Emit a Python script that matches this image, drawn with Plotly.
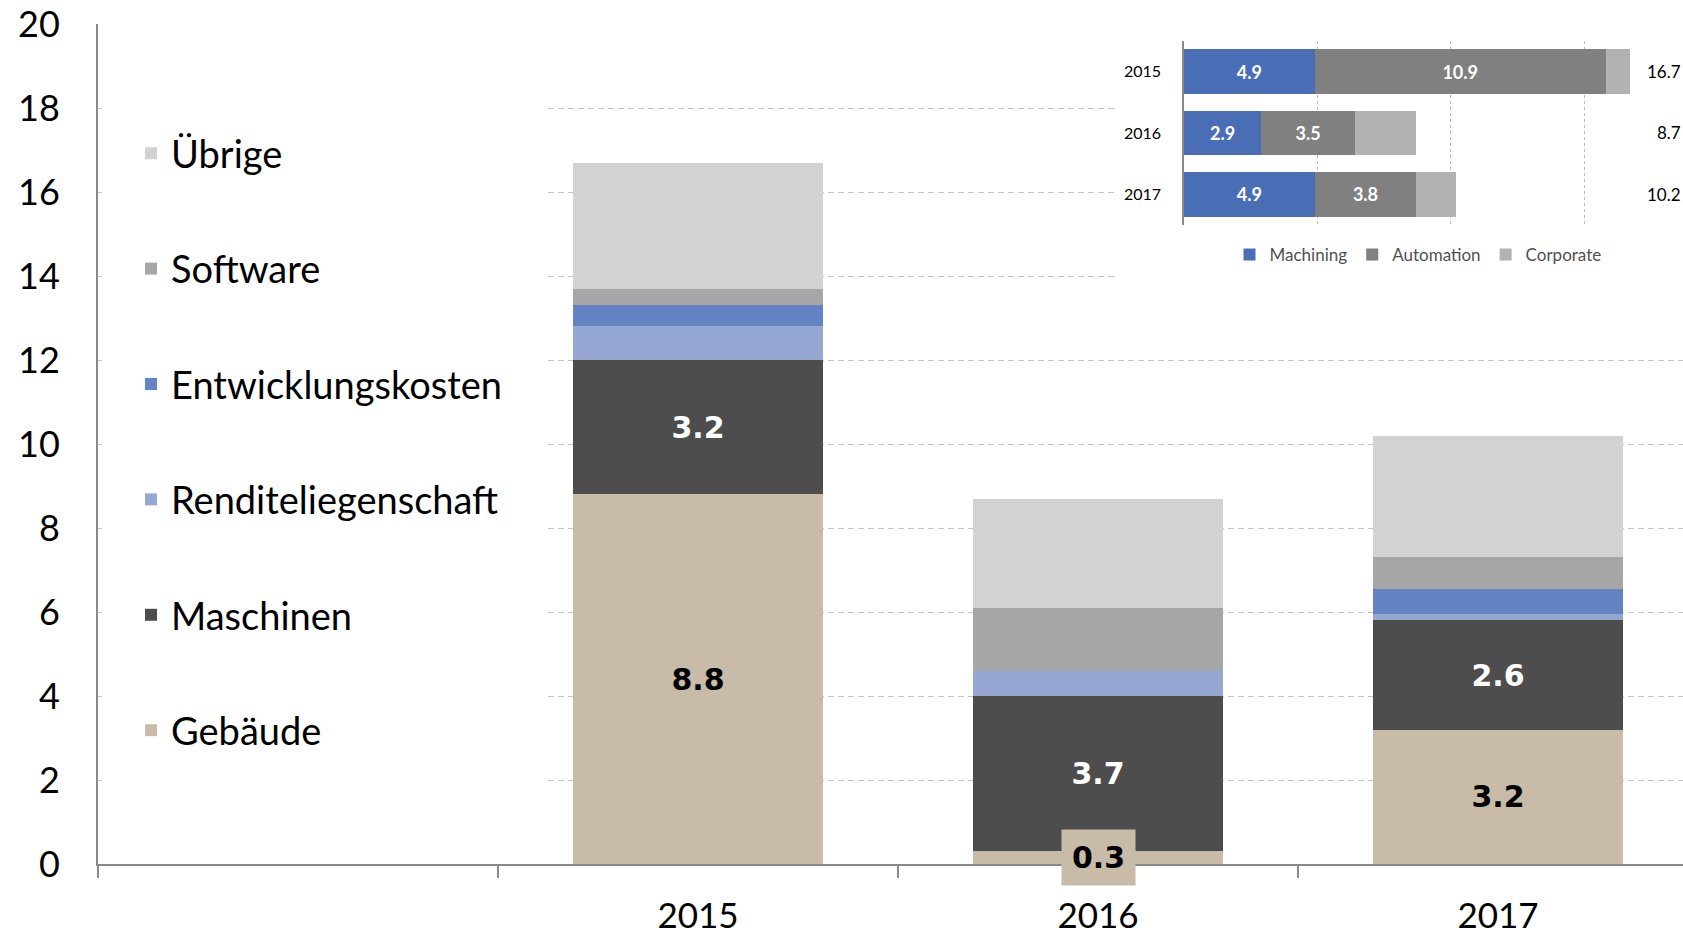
import plotly.graph_objects as go

# ---------------- data: main stacked chart ----------------
years = ["2015", "2016", "2017"]
series_names = ["Gebäude", "Maschinen", "Renditeliegenschaft",
                "Entwicklungskosten", "Software", "Übrige"]
gebaeude = [8.8, 0.3, 3.2]
maschinen = [3.2, 3.7, 2.6]
rendite = [0.8, 0.6, 0.15]
entwicklung = [0.5, 0.0, 0.6]
software = [0.4, 1.5, 0.75]
uebrige = [3.0, 2.6, 2.9]
y_ticks = list(range(0, 21, 2))

# ---------------- data: inset chart ----------------
inset_years = ["2015", "2016", "2017"]
inset_names = ["Machining", "Automation", "Corporate"]
machining = [4.9, 2.9, 4.9]
automation = [10.9, 3.5, 3.8]
corporate = [0.9, 2.3, 1.5]

# ---------------- styles ----------------
main_colors = ["#C8BBA8", "#4D4D4D", "#95A8D4", "#6483C2", "#A6A6A6", "#D2D2D2"]
inset_colors = ["#4A6EB5", "#808080", "#B2B2B2"]
W, H = 1683, 936
AXIS_COL = "#8A8A8A"
LABEL_FONT = "Lato"
BAR_FONT = "DejaVu Sans"

main_values = [gebaeude, maschinen, rendite, entwicklung, software, uebrige]
xpos = [i + 1 for i in range(len(years))]  # slot 0 is left free for the legend


def big_labels(vals):
    return [f"{v:.1f}" if v >= 1 else "" for v in vals]


label_cfg = {
    "Gebäude": ("#000000", big_labels(gebaeude)),
    "Maschinen": ("#FFFFFF", big_labels(maschinen)),
}

fig = go.Figure()

n_main = len(series_names)
for k, (name, vals, col) in enumerate(zip(series_names, main_values, main_colors)):
    kw = {}
    if name in label_cfg:
        tcol, txt = label_cfg[name]
        kw = dict(text=txt, textposition="inside", insidetextanchor="middle",
                  textangle=0, constraintext="none",
                  textfont=dict(family=BAR_FONT, size=30, color=tcol, weight="bold"))
    fig.add_trace(go.Bar(
        x=xpos, y=vals, name=name, marker=dict(color=col, line=dict(width=0)),
        width=0.625, legendgroup=name, legend="legend", legendrank=n_main - k,
        xaxis="x", yaxis="y", hoverinfo="skip", **kw))

inset_values = [machining, automation, corporate]
for k, (name, vals, col) in enumerate(zip(inset_names, inset_values, inset_colors)):
    kw = {}
    if k < 2:
        kw = dict(texttemplate="%{x:.1f}", textposition="inside",
                  insidetextanchor="middle", textangle=0, constraintext="none",
                  textfont=dict(family=LABEL_FONT, size=18, color="#FFFFFF", weight="bold"))
    fig.add_trace(go.Bar(
        y=inset_years, x=vals, name=name, orientation="h",
        marker=dict(color=col, line=dict(width=0)), width=0.73,
        legend="legend2", legendrank=k + 1,
        xaxis="x2", yaxis="y2", hoverinfo="skip", **kw))

annotations = []
# small Gebäude values get a boxed label
for i, v in enumerate(gebaeude):
    if v < 1:
        annotations.append(dict(
            x=xpos[i], y=v / 2, xref="x", yref="y", text=f"<b>{v:.1f}</b>",
            showarrow=False, bgcolor=main_colors[0], borderpad=10,
            font=dict(family=BAR_FONT, size=30, color="#000000")))
# inset totals (category axis -> use category index)
for i, yr in enumerate(inset_years):
    tot = machining[i] + automation[i] + corporate[i]
    annotations.append(dict(
        x=1, xref="x2 domain", xanchor="right", y=i, yref="y2",
        text=f"{tot:.1f}", showarrow=False,
        font=dict(family=LABEL_FONT, size=17, color="#000000")))

x_left = 98
cat_px = 400
x_range = [-0.5, -0.5 + (W - x_left) / cat_px]

shapes = [
    # white area behind the main legend (hides gridlines there)
    dict(type="rect", layer="between", xref="x", yref="y",
         x0=-0.49, x1=0.6225, y0=1, y1=19.2,
         fillcolor="white", line=dict(width=0)),
    # white area behind the inset chart
    dict(type="rect", layer="between", xref="x", yref="y",
         x0=2.045, x1=3.6, y0=13.3, y1=19.7,
         fillcolor="white", line=dict(width=0)),
]

fig.update_layout(
    template="none",
    width=W, height=H,
    margin=dict(l=0, r=0, t=0, b=0, pad=0),
    paper_bgcolor="white", plot_bgcolor="white",
    barmode="stack",
    showlegend=True,
    shapes=shapes,
    annotations=annotations,
    xaxis=dict(
        domain=[x_left / W, 1], range=x_range, anchor="y",
        tickmode="array", tickvals=xpos, ticktext=years, ticks="",
        tickfont=dict(family=LABEL_FONT, size=35, color="#000000"),
        ticklabelstandoff=20,
        showline=True, linecolor=AXIS_COL, linewidth=2,
        showgrid=False, zeroline=False,
        minor=dict(tickmode="linear", tick0=0.5, dtick=1, ticks="outside",
                   ticklen=12, tickwidth=2, tickcolor=AXIS_COL, showgrid=False),
    ),
    yaxis=dict(
        domain=[72 / H, 912 / H], range=[0, 20], anchor="x",
        tickmode="array", tickvals=y_ticks, ticks="",
        tickfont=dict(family=LABEL_FONT, size=36, color="#000000"),
        ticklabelstandoff=29,
        showline=True, linecolor=AXIS_COL, linewidth=2,
        showgrid=True, gridcolor="#C4C4C4", gridwidth=1, griddash="6px,4px",
        zeroline=False,
    ),
    xaxis2=dict(
        domain=[1184 / W, 1], range=[0, 18.7], anchor="y2",
        showgrid=True, dtick=5, tick0=0, gridcolor="#BDBDBD", gridwidth=1,
        griddash="3px,3px", showticklabels=False, ticks="",
        zeroline=False, showline=False,
    ),
    yaxis2=dict(
        domain=[1 - 225 / H, 1 - 41 / H], anchor="x2",
        type="category", autorange="reversed",
        ticks="", tickfont=dict(family=LABEL_FONT, size=16, color="#000000"),
        ticklabelstandoff=18,
        showline=True, linecolor=AXIS_COL, linewidth=1.5,
        showgrid=False, zeroline=False,
    ),
    legend=dict(
        x=131 / W, xanchor="left", y=1 - 122 / H, yanchor="top",
        traceorder="grouped", tracegroupgap=63,
        font=dict(family=LABEL_FONT, size=38, color="#000000"),
        bgcolor="rgba(0,0,0,0)", borderwidth=0,
    ),
    legend2=dict(
        orientation="h", x=1418 / W, xanchor="center",
        y=1 - 255 / H, yanchor="middle", traceorder="normal",
        font=dict(family=LABEL_FONT, size=17, color="#505050"),
        bgcolor="rgba(0,0,0,0)", borderwidth=0,
    ),
)

fig.write_html(
    "out.html",
    config={"displayModeBar": False},
    post_script="document.body.style.margin='0';document.body.style.overflow='hidden';",
)
